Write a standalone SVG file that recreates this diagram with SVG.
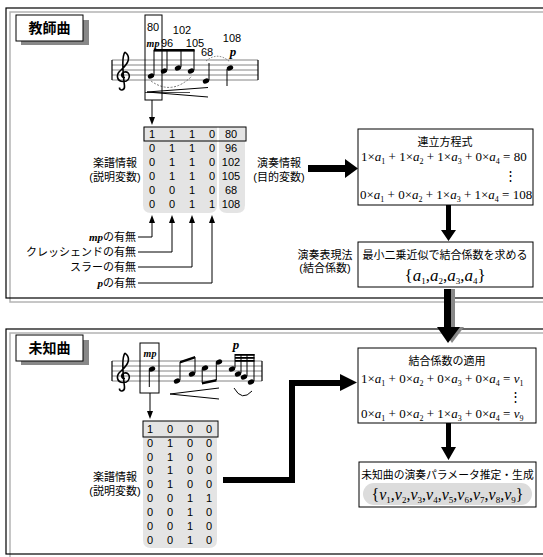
<svg xmlns="http://www.w3.org/2000/svg" width="543" height="557" viewBox="0 0 543 557">
<defs>
<style>
.jp{font-family:"Liberation Sans","Noto Sans CJK JP",sans-serif;font-size:11px;fill:#000}
.c{text-anchor:middle}
.e{text-anchor:end}
.num{font-family:"Liberation Sans",sans-serif;font-size:11px;text-anchor:middle;fill:#000}
.eq{font-family:"Liberation Serif",serif;font-size:13px;fill:#000}
.big{font-size:17px}
.it{font-style:italic}
.sub{font-size:8px}
.bsub{font-size:9px}
.dyn{font-family:"Liberation Serif",serif;font-weight:bold;font-style:italic}
.staff{stroke:#666;stroke-width:0.8}
.bar{stroke:#000;stroke-width:1.2}
.stem{stroke:#000;stroke-width:1}
.thin{stroke:#000;stroke-width:1;fill:none}
.box{fill:#fff;stroke:#000;stroke-width:1}
.gray{fill:#e4e4e4}
.title{font-family:"Liberation Sans","Noto Sans CJK JP",sans-serif;font-size:14px;font-weight:bold;text-anchor:middle}
</style>
<path id="clef" d="M125,52 C131,57 129,63 121,70 C115,75 117,82 124,81.5 C131,81 131,71 124.5,72 C120.5,73 121,78 125,77.5 M125,52 C122,56 122.5,70 124.5,86 C125,91 119,91 119.5,87.5" fill="none" stroke="#000" stroke-width="1.6"/>
</defs>
<rect width="543" height="557" fill="#fff"/>

<g id="panel-teacher">
<rect x="10" y="12" width="545" height="290" fill="none" stroke="#b4b4b4" stroke-width="1.5"/>
<rect x="6" y="8" width="545" height="290" fill="none" stroke="#000" stroke-width="1.2"/>
</g>
<g id="panel-unknown">
<rect x="10" y="333" width="545" height="225" fill="none" stroke="#b4b4b4" stroke-width="1.5"/>
<rect x="6" y="329" width="545" height="225" fill="none" stroke="#000" stroke-width="1.2"/>
</g>

<g id="label-teacher">
<rect x="21" y="20" width="68" height="25" fill="#888"/>
<rect x="16" y="15" width="67" height="26" class="box" stroke-width="1.2"/>
<text x="49.5" y="33" class="title">教師曲</text>
</g>
<g id="label-unknown">
<rect x="21" y="340" width="68" height="25" fill="#888"/>
<rect x="16" y="335" width="67" height="26" class="box" stroke-width="1.2"/>
<text x="49.5" y="353" class="title">未知曲</text>
</g>

<g id="score-teacher">
<g class="staff"><line x1="112" y1="60" x2="258" y2="60"/><line x1="112" y1="65" x2="258" y2="65"/><line x1="112" y1="70" x2="258" y2="70"/><line x1="112" y1="75" x2="258" y2="75"/><line x1="112" y1="80" x2="258" y2="80"/></g>
<line x1="112" y1="60" x2="112" y2="80" class="bar"/><line x1="258" y1="60" x2="258" y2="80" class="bar"/>
<use href="#clef"/>
<g fill="#000">
<ellipse cx="151" cy="76" rx="3.3" ry="2.4" transform="rotate(-20 151 76)"/>
<ellipse cx="164" cy="71" rx="3.3" ry="2.4" transform="rotate(-20 164 71)"/>
<ellipse cx="178" cy="68" rx="3.3" ry="2.4" transform="rotate(-20 178 68)"/>
<ellipse cx="191" cy="71" rx="3.3" ry="2.4" transform="rotate(-20 191 71)"/>
<ellipse cx="206" cy="81" rx="3.3" ry="2.4" transform="rotate(-20 206 81)"/>
<ellipse cx="230" cy="68" rx="3.3" ry="2.4" transform="rotate(-20 230 68)"/>
<rect x="153.8" y="49" width="40.8" height="2.6"/>
</g>
<g class="stem"><line x1="154" y1="75" x2="154" y2="50"/><line x1="167" y1="70" x2="167" y2="50"/><line x1="181" y1="67" x2="181" y2="50"/><line x1="194" y1="70" x2="194" y2="50"/><line x1="209" y1="80" x2="209" y2="63"/><line x1="227" y1="69" x2="227" y2="86"/></g>
<path d="M151,81 Q172,96 192,76" fill="none" stroke="#666" stroke-width="0.9" stroke-dasharray="2,1.5"/>
<path d="M206,61 Q218,51 230,62" fill="none" stroke="#666" stroke-width="0.9" stroke-dasharray="1.5,1.5"/>
<path d="M208,87.5 L147,92 L208,97" class="thin" stroke-width="0.9"/>
<line x1="145" y1="92.5" x2="190" y2="92.5" stroke="#000" stroke-width="0.7"/>
<rect x="145" y="15" width="17" height="85" class="thin"/>
<text x="153" y="31" class="num">80</text>
<text x="182" y="34" class="num">102</text>
<text x="153" y="47" class="dyn c" font-size="10">mp</text>
<text x="167" y="47" class="num">96</text>
<text x="195" y="47" class="num">105</text>
<text x="207" y="56" class="num">68</text>
<text x="232" y="42" class="num">108</text>
<text x="233" y="56" class="dyn c" font-size="13">p</text>
</g>

<g id="matrix-teacher">
<path d="M143,127 H217 V205 Q217,213 209,213 H151 Q143,213 143,205 Z" class="gray"/>
<path d="M219,127 H245 V205 Q245,213 237,213 H227 Q219,213 219,205 Z" class="gray"/>
<rect x="144" y="127" width="102" height="14" fill="none" stroke="#000" stroke-width="1"/>
<g class="num">
<text x="152" y="138">1</text><text x="172" y="138">1</text><text x="192" y="138">1</text><text x="212" y="138">0</text><text x="231" y="138">80</text>
<text x="152" y="152">0</text><text x="172" y="152">1</text><text x="192" y="152">1</text><text x="212" y="152">0</text><text x="231" y="152">96</text>
<text x="152" y="166">0</text><text x="172" y="166">1</text><text x="192" y="166">1</text><text x="212" y="166">0</text><text x="231" y="166">102</text>
<text x="152" y="180">0</text><text x="172" y="180">1</text><text x="192" y="180">1</text><text x="212" y="180">0</text><text x="231" y="180">105</text>
<text x="152" y="194">0</text><text x="172" y="194">0</text><text x="192" y="194">1</text><text x="212" y="194">0</text><text x="231" y="194">68</text>
<text x="152" y="208">0</text><text x="172" y="208">0</text><text x="192" y="208">1</text><text x="212" y="208">1</text><text x="231" y="208">108</text>
</g>
<text x="115" y="167" class="jp c">楽譜情報</text>
<text x="115" y="181" class="jp c">(説明変数)</text>
<text x="279" y="167" class="jp c">演奏情報</text>
<text x="279" y="181" class="jp c">(目的変数)</text>
</g>

<g id="feature-labels">
<text x="136" y="241" class="jp e"><tspan class="dyn">mp</tspan>の有無</text>
<text x="136" y="256" class="jp e">クレッシェンドの有無</text>
<text x="136" y="271" class="jp e">スラーの有無</text>
<text x="136" y="287" class="jp e"><tspan class="dyn">p</tspan>の有無</text>
</g>

<g id="eq-box-teacher">
<rect x="358" y="129" width="175" height="76" class="box"/>
<text x="445" y="146" class="jp c">連立方程式</text>
<text x="361" y="161" class="eq">1×<tspan class="it">a</tspan><tspan class="sub" dy="3">1</tspan><tspan dy="-3"> + 1×</tspan><tspan class="it">a</tspan><tspan class="sub" dy="3">2</tspan><tspan dy="-3"> + 1×</tspan><tspan class="it">a</tspan><tspan class="sub" dy="3">3</tspan><tspan dy="-3"> + 0×</tspan><tspan class="it">a</tspan><tspan class="sub" dy="3">4</tspan><tspan dy="-3"> = 80</tspan></text>
<text x="510" y="180" class="eq c">⋮</text>
<text x="360" y="199" class="eq">0×<tspan class="it">a</tspan><tspan class="sub" dy="3">1</tspan><tspan dy="-3"> + 0×</tspan><tspan class="it">a</tspan><tspan class="sub" dy="3">2</tspan><tspan dy="-3"> + 1×</tspan><tspan class="it">a</tspan><tspan class="sub" dy="3">3</tspan><tspan dy="-3"> + 1×</tspan><tspan class="it">a</tspan><tspan class="sub" dy="3">4</tspan><tspan dy="-3"> = 108</tspan></text>
</g>

<g id="coef-box">
<text x="325" y="259" class="jp c">演奏表現法</text>
<text x="325" y="272" class="jp c">(結合係数)</text>
<rect x="358" y="242" width="175" height="45" class="box"/>
<text x="445" y="259" class="jp c">最小二乗近似で結合係数を求める</text>
<text x="445" y="281" class="eq big c">{<tspan class="it">a</tspan><tspan class="bsub" dy="3">1</tspan><tspan dy="-3">,</tspan><tspan class="it">a</tspan><tspan class="bsub" dy="3">2</tspan><tspan dy="-3">,</tspan><tspan class="it">a</tspan><tspan class="bsub" dy="3">3</tspan><tspan dy="-3">,</tspan><tspan class="it">a</tspan><tspan class="bsub" dy="3">4</tspan><tspan dy="-3">}</tspan></text>
</g>

<g id="score-unknown">
<g class="staff"><line x1="112" y1="361" x2="262" y2="361"/><line x1="112" y1="366" x2="262" y2="366"/><line x1="112" y1="371" x2="262" y2="371"/><line x1="112" y1="376" x2="262" y2="376"/><line x1="112" y1="381" x2="262" y2="381"/></g>
<line x1="112" y1="361" x2="112" y2="381" class="bar"/><line x1="262" y1="361" x2="262" y2="381" class="bar"/>
<use href="#clef" transform="translate(0,301)"/>
<g fill="#000">
<ellipse cx="152" cy="369" rx="3.3" ry="2.4" transform="rotate(-20 152 369)"/>
<ellipse cx="177" cy="381" rx="3.3" ry="2.4" transform="rotate(-20 177 381)"/>
<ellipse cx="192" cy="374" rx="3.3" ry="2.4" transform="rotate(-20 192 374)"/>
<ellipse cx="205" cy="368" rx="3.3" ry="2.4" transform="rotate(-20 205 368)"/>
<ellipse cx="219" cy="362" rx="3.3" ry="2.4" transform="rotate(-20 219 362)"/>
<ellipse cx="232" cy="369" rx="3.3" ry="2.4" transform="rotate(-20 232 369)"/>
<ellipse cx="238" cy="374" rx="3.3" ry="2.4" transform="rotate(-20 238 374)"/>
<ellipse cx="244" cy="377" rx="3.3" ry="2.4" transform="rotate(-20 244 377)"/>
<ellipse cx="251" cy="382" rx="3.3" ry="2.4" transform="rotate(-20 251 382)"/>
<path d="M180,361 L195,356 L195,358.5 L180,363.5 Z"/>
<path d="M202,382 L216.5,379 L216.5,381.5 L202,384.5 Z"/>
<rect x="235" y="354" width="19.5" height="1.8"/>
<rect x="235" y="357" width="19.5" height="1.8"/>
<rect x="235" y="360" width="19.5" height="1.8"/>
</g>
<g class="stem">
<line x1="149.3" y1="370" x2="149.3" y2="387"/>
<line x1="180" y1="380" x2="180" y2="362"/><line x1="195" y1="373" x2="195" y2="357"/>
<line x1="202.2" y1="369" x2="202.2" y2="383"/><line x1="216.3" y1="363" x2="216.3" y2="380"/>
<line x1="235" y1="368" x2="235" y2="354"/><line x1="241" y1="373" x2="241" y2="354"/><line x1="247" y1="376" x2="247" y2="354"/><line x1="254" y1="381" x2="254" y2="354"/>
</g>
<path d="M234,388 Q242,402 252,391" class="thin" stroke-width="0.9"/>
<path d="M219,388 L170,394 L219,399" class="thin" stroke-width="0.9"/>
<rect x="140" y="343" width="19" height="50" class="thin"/>
<text x="150" y="357" class="dyn c" font-size="10">mp</text>
<text x="236" y="349" class="dyn c" font-size="13">p</text>
</g>

<g id="matrix-unknown">
<path d="M143,421 H217 V540 Q217,548 209,548 H151 Q143,548 143,540 Z" class="gray"/>
<rect x="143" y="421" width="75" height="16" fill="none" stroke="#000" stroke-width="1"/>
<g class="num">
<text x="150" y="433">1</text><text x="170" y="433">0</text><text x="190" y="433">0</text><text x="209" y="433">0</text>
<text x="150" y="447">0</text><text x="170" y="447">1</text><text x="190" y="447">0</text><text x="209" y="447">0</text>
<text x="150" y="461">0</text><text x="170" y="461">1</text><text x="190" y="461">0</text><text x="209" y="461">0</text>
<text x="150" y="474">0</text><text x="170" y="474">1</text><text x="190" y="474">0</text><text x="209" y="474">0</text>
<text x="150" y="488">0</text><text x="170" y="488">1</text><text x="190" y="488">0</text><text x="209" y="488">0</text>
<text x="150" y="502">0</text><text x="170" y="502">0</text><text x="190" y="502">1</text><text x="209" y="502">1</text>
<text x="150" y="516">0</text><text x="170" y="516">0</text><text x="190" y="516">1</text><text x="209" y="516">0</text>
<text x="150" y="530">0</text><text x="170" y="530">0</text><text x="190" y="530">1</text><text x="209" y="530">0</text>
<text x="150" y="544">0</text><text x="170" y="544">0</text><text x="190" y="544">1</text><text x="209" y="544">0</text>
</g>
<text x="115" y="481" class="jp c">楽譜情報</text>
<text x="115" y="495" class="jp c">(説明変数)</text>
</g>

<g id="apply-box">
<rect x="358" y="348" width="178" height="75" class="box"/>
<text x="447" y="365" class="jp c">結合係数の適用</text>
<text x="361" y="383" class="eq">1×<tspan class="it">a</tspan><tspan class="sub" dy="3">1</tspan><tspan dy="-3"> + 0×</tspan><tspan class="it">a</tspan><tspan class="sub" dy="3">2</tspan><tspan dy="-3"> + 0×</tspan><tspan class="it">a</tspan><tspan class="sub" dy="3">3</tspan><tspan dy="-3"> + 0×</tspan><tspan class="it">a</tspan><tspan class="sub" dy="3">4</tspan><tspan dy="-3"> = </tspan><tspan class="it">v</tspan><tspan class="sub" dy="3">1</tspan></text>
<text x="515" y="401" class="eq c">⋮</text>
<text x="361" y="418" class="eq">0×<tspan class="it">a</tspan><tspan class="sub" dy="3">1</tspan><tspan dy="-3"> + 0×</tspan><tspan class="it">a</tspan><tspan class="sub" dy="3">2</tspan><tspan dy="-3"> + 1×</tspan><tspan class="it">a</tspan><tspan class="sub" dy="3">3</tspan><tspan dy="-3"> + 0×</tspan><tspan class="it">a</tspan><tspan class="sub" dy="3">4</tspan><tspan dy="-3"> = </tspan><tspan class="it">v</tspan><tspan class="sub" dy="3">9</tspan></text>
</g>

<g id="result-box">
<rect x="359" y="462" width="177" height="45" class="box"/>
<text x="447.5" y="479" class="jp c" style="font-size:10.8px">未知曲の演奏パラメータ推定・生成</text>
<rect x="363" y="483" width="169" height="22" rx="11" fill="#dcdcdc"/>
<text x="447.5" y="500" class="eq c" style="font-size:16px">{<tspan class="it">v</tspan><tspan class="bsub" dy="3">1</tspan><tspan dy="-3">,</tspan><tspan class="it">v</tspan><tspan class="bsub" dy="3">2</tspan><tspan dy="-3">,</tspan><tspan class="it">v</tspan><tspan class="bsub" dy="3">3</tspan><tspan dy="-3">,</tspan><tspan class="it">v</tspan><tspan class="bsub" dy="3">4</tspan><tspan dy="-3">,</tspan><tspan class="it">v</tspan><tspan class="bsub" dy="3">5</tspan><tspan dy="-3">,</tspan><tspan class="it">v</tspan><tspan class="bsub" dy="3">6</tspan><tspan dy="-3">,</tspan><tspan class="it">v</tspan><tspan class="bsub" dy="3">7</tspan><tspan dy="-3">,</tspan><tspan class="it">v</tspan><tspan class="bsub" dy="3">8</tspan><tspan dy="-3">,</tspan><tspan class="it">v</tspan><tspan class="bsub" dy="3">9</tspan><tspan dy="-3">}</tspan></text>
</g>

<g id="connectors">
<line x1="152" y1="100" x2="152" y2="118" stroke="#000" stroke-width="1"/>
<path d="M149,117 L155,117 L152,125 Z" fill="#000"/>
<path d="M138,237 H152 V222 M138,252 H172 V222 M138,267 H192 V222 M138,283 H212 V222" fill="none" stroke="#000" stroke-width="1"/>
<g fill="#000"><path d="M149,223 L155,223 L152,215 Z"/><path d="M169,223 L175,223 L172,215 Z"/><path d="M189,223 L195,223 L192,215 Z"/><path d="M209,223 L215,223 L212,215 Z"/></g>
<path d="M308,165 H345 V159 L358,168.5 L345,178 V172 H308 Z" fill="#000"/>
<path d="M446,205 H451 V230 H456 L448.5,241 L441,230 H446 Z" fill="#000"/>
<path d="M448,289 H455 V327 H464 L452,343 L441,327 H448 Z" fill="#888"/>
<path d="M444,289 H451 V327 H460 L448,343 L437,327 H444 Z" fill="#000"/>
<line x1="150" y1="393" x2="150" y2="412" stroke="#000" stroke-width="1"/>
<path d="M147,411 L153,411 L150,419 Z" fill="#000"/>
<path d="M223,480 H292 V383 H342" fill="none" stroke="#000" stroke-width="6"/>
<path d="M340,374 L357,382.5 L340,391 Z" fill="#000"/>
<path d="M446,423 H451 V447 H456 L448.5,460 L441,447 H446 Z" fill="#000"/>
</g>
</svg>
